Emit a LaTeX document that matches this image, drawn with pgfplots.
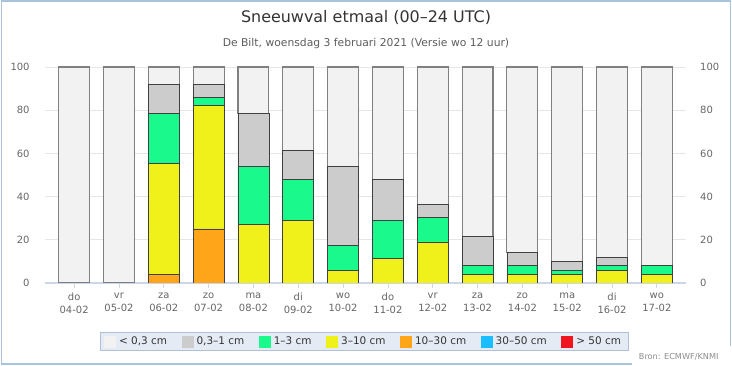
\documentclass[border=0pt]{standalone}
\usepackage{pgfplots}
\usepackage{pgfplotstable}
\pgfplotsset{compat=1.18}
\usepackage{fontspec}
\setmainfont{DejaVu Sans}
\definecolor{clight}{HTML}{F2F2F2}
\definecolor{cgray}{HTML}{CCCCCC}
\definecolor{cgreen}{HTML}{1AFA8C}
\definecolor{cyellow}{HTML}{F0F01A}
\definecolor{corange}{HTML}{FFA51A}
\definecolor{cblue}{HTML}{1ABEFF}
\definecolor{cred}{HTML}{F0141E}
\definecolor{titlecol}{HTML}{333333}
\definecolor{tickcol}{HTML}{666666}
\definecolor{gridcol}{HTML}{E6E6E6}
\definecolor{axcol}{HTML}{CCD6EB}
\definecolor{legfill}{HTML}{E4EBF5}
\definecolor{legdraw}{HTML}{B0C0D8}
\definecolor{bordercol}{HTML}{A8C4DC}

\pgfplotstableread{
x red blue orange yellow green gray light
0 0 0 0 0 0 0 100
1 0 0 0 0 0 0 100
2 0 0 4 51.5 23 13.5 8
3 0 0 25 57 4 6 8
4 0 0 0 27 27 24.5 21.5
5 0 0 0 29 19 13.5 38.5
6 0 0 0 6 11.5 36.5 46
7 0 0 0 11.5 17.5 19 52
8 0 0 0 19 11.5 6 63.5
9 0 0 0 4 4 13.5 78.5
10 0 0 0 4 4 6 86
11 0 0 0 4 2 4 90
12 0 0 0 6 2 4 88
13 0 0 0 4 4 0 92
}\snowdata

\begin{document}
\begin{tikzpicture}
\path[use as bounding box] (0,0) rectangle (732bp,366bp);
\draw[bordercol, line width=1.2bp] (632bp,2bp) -- (1.5bp,2bp) -- (1.5bp,365bp) -- (730.5bp,365bp) -- (730.5bp,20bp);
\node[font=\fontsize{16}{19}\selectfont, text=titlecol] at (366bp,349bp) {Sneeuwval etmaal (00–24 UTC)};
\node[font=\fontsize{10.8}{13}\selectfont, text=titlecol!80] at (366bp,322bp) {De Bilt, woensdag 3 februari 2021 (Versie wo 12 uur)};
\node[anchor=east, font=\fontsize{8.2}{10}\selectfont, text=black!45] at (722bp,9bp) {Bron: ECMWF/KNMI};

\begin{axis}[
  at={(45bp,83bp)}, anchor=south west, scale only axis,
  width=641bp, height=216bp,
  ybar stacked, bar width=0.69,
  xmin=-0.65, xmax=13.65, ymin=0, ymax=100,
  axis x line*=bottom, axis y line*=left,
  x axis line style={draw=axcol, line width=1.5bp},
  y axis line style={draw=none},
  /pgf/number format/assume math mode=true,
  xtick={0,...,13},
  xticklabels={{do\\04-02},{vr\\05-02},{za\\06-02},{zo\\07-02},{ma\\08-02},{di\\09-02},{wo\\10-02},{do\\11-02},{vr\\12-02},{za\\13-02},{zo\\14-02},{ma\\15-02},{di\\16-02},{wo\\17-02}},
  xticklabel style={align=center, font=\fontsize{10}{13.5}\selectfont, text=tickcol, yshift=-2bp},
  xtick style={draw=axcol, line width=0.8bp},
  x tick style={/pgfplots/major tick length=5bp},
  tick align=outside,
  ytick={0,20,...,100},
  ytick style={draw=none},
  yticklabel style={font=\fontsize{10}{12}\selectfont, text=tickcol, inner sep=0pt, xshift=-11bp},
  ymajorgrids, grid style={draw=gridcol, line width=0.8bp},
  legend style={at={(0.4977,-0.271)}, anchor=center, fill=legfill, draw=legdraw,
    font=\fontsize{10.5}{12}\selectfont, text=titlecol, inner ysep=2.5bp, inner xsep=4bp,
    nodes={inner xsep=3bp},
    /tikz/every even column/.append style={column sep=11.5bp}},
  legend columns=7, reverse legend,
  legend image code/.code={\fill[#1,draw=none] (0bp,-6bp) rectangle (12bp,6bp);},
]
\addplot[fill=cred, draw=none] table[x=x,y=red]{\snowdata};
\addlegendentry{> 50 cm}
\addplot[fill=cblue, draw=none] table[x=x,y=blue]{\snowdata};
\addlegendentry{30–50 cm}
\addplot[fill=corange, draw=black!75, line width=0.8bp] table[x=x,y=orange]{\snowdata};
\addlegendentry{10–30 cm}
\addplot[fill=cyellow, draw=black!75, line width=0.8bp] table[x=x,y=yellow]{\snowdata};
\addlegendentry{3–10 cm}
\addplot[fill=cgreen, draw=black!75, line width=0.8bp] table[x=x,y=green]{\snowdata};
\addlegendentry{1–3 cm}
\addplot[fill=cgray, draw=black!75, line width=0.8bp] table[x=x,y=gray]{\snowdata};
\addlegendentry{0,3–1 cm}
\addplot[fill=clight, draw=black!50, line width=1.1bp] table[x=x,y=light]{\snowdata};
\addlegendentry{< 0,3 cm}
\end{axis}

\begin{axis}[
  at={(45bp,83bp)}, anchor=south west, scale only axis,
  width=641bp, height=216bp,
  xmin=-0.65, xmax=13.65, ymin=0, ymax=100,
  axis x line=none, axis y line*=right,
  y axis line style={draw=none},
  /pgf/number format/assume math mode=true,
  ytick={0,20,...,100},
  ytick style={draw=none},
  yticklabel style={font=\fontsize{10}{12}\selectfont, text=tickcol, inner sep=0pt, xshift=14bp},
]
\end{axis}
\end{tikzpicture}
\end{document}
